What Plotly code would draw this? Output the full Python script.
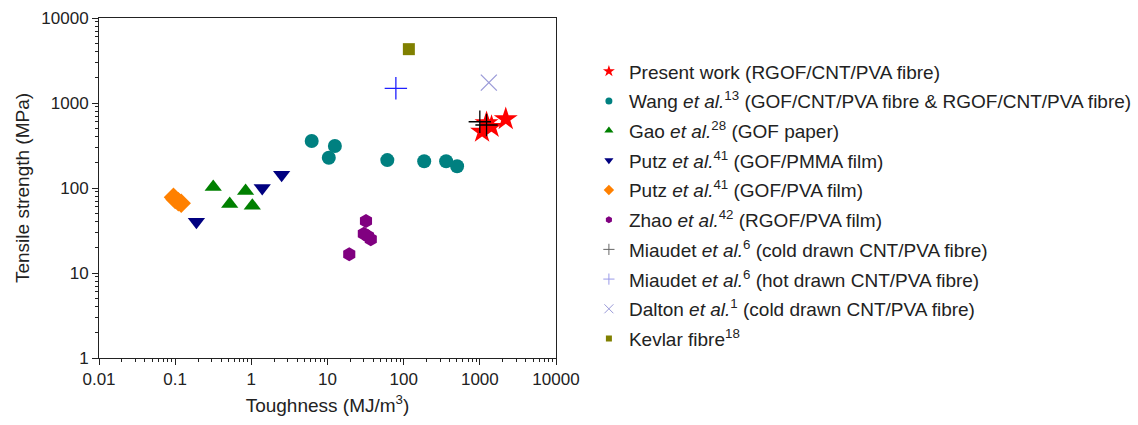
import plotly.graph_objects as go

present_x = [1070, 1225, 1425, 2190]
present_y = [460, 580, 525, 648]
wang_x = [6.2, 12.5, 10.4, 61, 186, 361, 503]
wang_y = [357, 312, 227, 213, 206, 206, 180]
gao_x = [0.316, 0.52, 0.84, 1.03]
gao_y = [103, 65, 92, 62]
putz_pmma_x = [0.19, 1.39, 2.5]
putz_pmma_y = [40, 100, 143]
putz_pva_x = [0.095, 0.1, 0.11, 0.12]
putz_pva_y = [78, 73, 69, 66]
zhao_x = [19.3, 32, 30, 34, 37]
zhao_y = [16.6, 41, 29, 27, 25]
miaudet_cold_x = [1000, 1225]
miaudet_cold_y = [602, 551]
miaudet_hot_x = [79]
miaudet_hot_y = [1490]
dalton_x = [1313]
dalton_y = [1735]
kevlar_x = [117]
kevlar_y = [4300]

x_tickvals = [0.01, 0.1, 1, 10, 100, 1000, 10000]
x_ticktext = ["0.01", "0.1", "1", "10", "100", "1000", "10000"]
y_tickvals = [1, 10, 100, 1000, 10000]
y_ticktext = ["1", "10", "100", "1000", "10000"]

FONT = "Liberation Sans, Arial"

series = [
    ("Present work (RGOF/CNT/PVA fibre)", present_x, present_y, "star", "#FF0000", 18, False),
    ("Wang <i>et al.</i><sup>13</sup> (GOF/CNT/PVA fibre &amp; RGOF/CNT/PVA fibre)", wang_x, wang_y, "circle", "#008080", 14, False),
    ("Gao <i>et al.</i><sup>28</sup> (GOF paper)", gao_x, gao_y, "triangle-up", "#008000", 15, False),
    ("Putz <i>et al.</i><sup>41</sup> (GOF/PMMA film)", putz_pmma_x, putz_pmma_y, "triangle-down", "#000080", 15, False),
    ("Putz <i>et al.</i><sup>41</sup> (GOF/PVA film)", putz_pva_x, putz_pva_y, "diamond", "#FF8000", 15, False),
    ("Zhao <i>et al.</i><sup>42</sup> (RGOF/PVA film)", zhao_x, zhao_y, "hexagon", "#800080", 14, False),
    ("Miaudet <i>et al.</i><sup>6</sup> (cold drawn CNT/PVA fibre)", miaudet_cold_x, miaudet_cold_y, "cross-thin", "#000000", 16, True),
    ("Miaudet <i>et al.</i><sup>6</sup> (hot drawn CNT/PVA fibre)", miaudet_hot_x, miaudet_hot_y, "cross-thin", "#2020FF", 16, True),
    ("Dalton <i>et al.</i><sup>1</sup> (cold drawn CNT/PVA fibre)", dalton_x, dalton_y, "x-thin", "#9A9AD8", 16, True),
    ("Kevlar fibre<sup>18</sup>", kevlar_x, kevlar_y, "square", "#808000", 12, False),
]

legend_sizes = {"star": 9, "circle": 7, "triangle-up": 8, "triangle-down": 8, "diamond": 8,
                "hexagon": 7, "cross-thin": 8, "x-thin": 9, "square": 6}

fig = go.Figure()
for i, (name, xs, ys, sym, col, size, thin) in enumerate(series):
    lw = 1.3 if thin else 0
    fig.add_trace(go.Scatter(
        x=xs, y=ys, mode="markers", name=name, showlegend=False,
        marker=dict(symbol=sym, size=size, color=col, line=dict(color=col, width=lw))))
for i, (name, xs, ys, sym, col, size, thin) in enumerate(series):
    lw = 1 if thin else 0
    lcol = col
    if sym == "cross-thin" and col == "#2020FF":
        lcol = "#9A9AE8"
    if sym == "cross-thin" and col == "#000000":
        lcol = "#666666"
    fig.add_trace(go.Scatter(
        x=[None], y=[None], mode="markers", name=name, legendgroup=f"g{i}",
        marker=dict(symbol=sym, size=legend_sizes[sym], color=lcol, line=dict(color=lcol, width=lw))))

axis_common = dict(
    type="log", showgrid=False, zeroline=False,
    showline=True, linecolor="#222222", linewidth=1, mirror=True,
    ticks="outside", ticklen=6, tickwidth=1, tickcolor="#222222",
    minor=dict(ticks="outside", ticklen=3, tickcolor="#222222", dtick="D1", showgrid=False),
    tickfont=dict(family=FONT, size=17, color="#222222"),
)

fig.update_layout(
    width=1138, height=425,
    margin=dict(l=99, r=582, t=18, b=67, autoexpand=False),
    paper_bgcolor="white", plot_bgcolor="white",
    font=dict(family=FONT, color="#222222"),
    xaxis=dict(range=[-2, 4], tickmode="array", tickvals=x_tickvals, ticktext=x_ticktext,
               title=dict(text="Toughness (MJ/m<sup>3</sup>)", font=dict(size=19), standoff=10),
               **axis_common),
    yaxis=dict(range=[0, 4], tickmode="array", tickvals=y_tickvals, ticktext=y_ticktext,
               title=dict(text="Tensile strength (MPa)", font=dict(size=19), standoff=6),
               **axis_common),
    legend=dict(x=1.072, xanchor="left", y=0.899, yanchor="top",
                font=dict(size=19, family=FONT, color="#222222"),
                traceorder="grouped", tracegroupgap=2, itemsizing="trace",
                bgcolor="rgba(0,0,0,0)"),
)

fig.write_html("out.html")
